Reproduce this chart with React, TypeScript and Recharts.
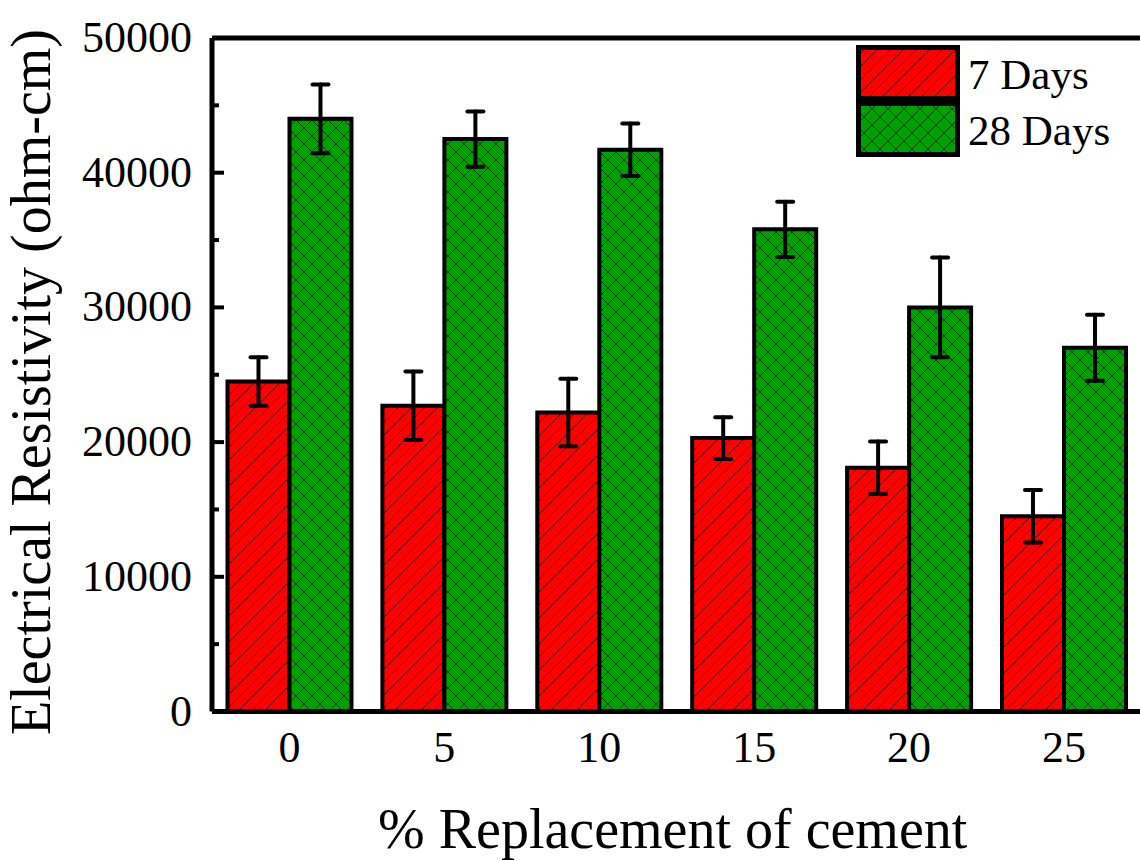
import React from 'react';
import { BarChart, Bar, XAxis, YAxis, ErrorBar, ReferenceLine, Legend } from 'recharts';

// % replacement levels and electrical resistivity (ohm-cm)
const replacement = ['0', '5', '10', '15', '20', '25'];
const days7 = [24500, 22700, 22200, 20300, 18100, 14500];
const days7Err = [1800, 2550, 2500, 1550, 1950, 1950];
const days28 = [44000, 42500, 41700, 35800, 30000, 27000];
const days28Err = [2550, 2050, 1950, 2050, 3700, 2450];
const yTicks = [0, 5000, 10000, 15000, 20000, 25000, 30000, 35000, 40000, 45000, 50000];

const data = replacement.map((pct, i) => ({
  pct,
  d7: days7[i],
  d7Err: days7Err[i],
  d28: days28[i],
  d28Err: days28Err[i],
}));

const FONT = '"Liberation Serif", "DejaVu Serif", serif';
const RED = '#ff0000';
const GREEN = '#00a000';

const Patterns = () => (
  <svg width={0} height={0} style={{ position: 'absolute' }}>
    <defs>
      <pattern id="hatchRed" patternUnits="userSpaceOnUse" width={13} height={13}>
        <rect width={13} height={13} fill={RED} />
        <path d="M0,13 L13,0 M-3,3 L3,-3 M10,16 L16,10" stroke="#000" strokeWidth={0.6} />
      </pattern>
      <pattern id="crossGreen" patternUnits="userSpaceOnUse" width={16} height={16}>
        <rect width={16} height={16} fill={GREEN} />
        <path
          d="M0,16 L16,0 M-4,4 L4,-4 M12,20 L20,12 M0,0 L16,16 M-4,12 L4,20 M12,-4 L20,4"
          stroke="#000"
          strokeWidth={0.6}
        />
      </pattern>
    </defs>
  </svg>
);

const YTick = (props: any) => {
  const { x, y, payload } = props;
  const major = payload.value % 10000 === 0;
  return (
    <g>
      <line x1={x} x2={x + (major ? 12 : 7)} y1={y} y2={y} stroke="#000" strokeWidth={4} />
      {major && (
        <text x={x - 20} y={y + 14} textAnchor="end" fontFamily={FONT} fontSize={44} fill="#000">
          {payload.value}
        </text>
      )}
    </g>
  );
};

const XTick = (props: any) => {
  const { x, y, payload } = props;
  return (
    <text x={x} y={y + 50} textAnchor="middle" fontFamily={FONT} fontSize={44} fill="#000">
      {payload.value}
    </text>
  );
};

const LegendBox = () => (
  <svg width={270} height={120} style={{ display: 'block' }}>
    <rect x={2.5} y={2.5} width={99} height={51} fill="url(#hatchRed)" stroke="#000" strokeWidth={5} />
    <rect x={2.5} y={58.5} width={99} height={51} fill="url(#crossGreen)" stroke="#000" strokeWidth={5} />
    <text x={112} y={44} fontFamily={FONT} fontSize={43} fill="#000">7 Days</text>
    <text x={112} y={100} fontFamily={FONT} fontSize={43} fill="#000">28 Days</text>
  </svg>
);

export default function App() {
  return (
    <div
      style={{
        position: 'absolute',
        left: 0,
        top: 0,
        width: 1140,
        height: 861,
        overflow: 'hidden',
        background: '#fff',
      }}
    >
      <Patterns />
      <BarChart
        width={1160}
        height={861}
        data={data}
        margin={{ top: 38, right: 18.6, left: 0, bottom: 59.5 }}
        barCategoryGap="10%"
        barGap={0}
      >
        <XAxis
          dataKey="pct"
          height={90}
          tickLine={false}
          tickSize={0}
          tickMargin={0}
          axisLine={{ stroke: '#000', strokeWidth: 5 }}
          tick={<XTick />}
          label={{
            content: (p: any) => {
              const vb = p.viewBox;
              return (
                <text
                  x={vb.x + vb.width / 2 - 4}
                  y={vb.y + 136.5}
                  textAnchor="middle"
                  fontFamily={FONT}
                  fontSize={56}
                  fill="#000"
                >
                  % Replacement of cement
                </text>
              );
            },
          }}
        />
        <YAxis
          width={212}
          domain={[0, 50000]}
          ticks={yTicks}
          interval={0}
          tickLine={false}
          tickSize={0}
          tickMargin={0}
          axisLine={{ stroke: '#000', strokeWidth: 5 }}
          tick={<YTick />}
          label={{
            content: () => (
              <text
                x={50}
                y={382}
                transform="rotate(-90, 50, 382)"
                textAnchor="middle"
                fontFamily={FONT}
                fontSize={56}
                fill="#000"
              >
                Electrical Resistivity (ohm-cm)
              </text>
            ),
          }}
        />
        <ReferenceLine y={50000} stroke="#000" strokeWidth={5} />
        <Legend
          layout="horizontal"
          verticalAlign="middle"
          align="center"
          content={() => <LegendBox />}
          wrapperStyle={{ position: 'absolute', left: 856, top: 45, width: 270, height: 120 }}
        />
        <Bar dataKey="d7" name="7 Days" fill="url(#hatchRed)" stroke="#000" strokeWidth={4} isAnimationActive={false}>
          <ErrorBar dataKey="d7Err" direction="y" width={8} stroke="#000" strokeWidth={4} strokeLinecap="round" />
        </Bar>
        <Bar dataKey="d28" name="28 Days" fill="url(#crossGreen)" stroke="#000" strokeWidth={4} isAnimationActive={false}>
          <ErrorBar dataKey="d28Err" direction="y" width={8} stroke="#000" strokeWidth={4} strokeLinecap="round" />
        </Bar>
      </BarChart>
    </div>
  );
}
